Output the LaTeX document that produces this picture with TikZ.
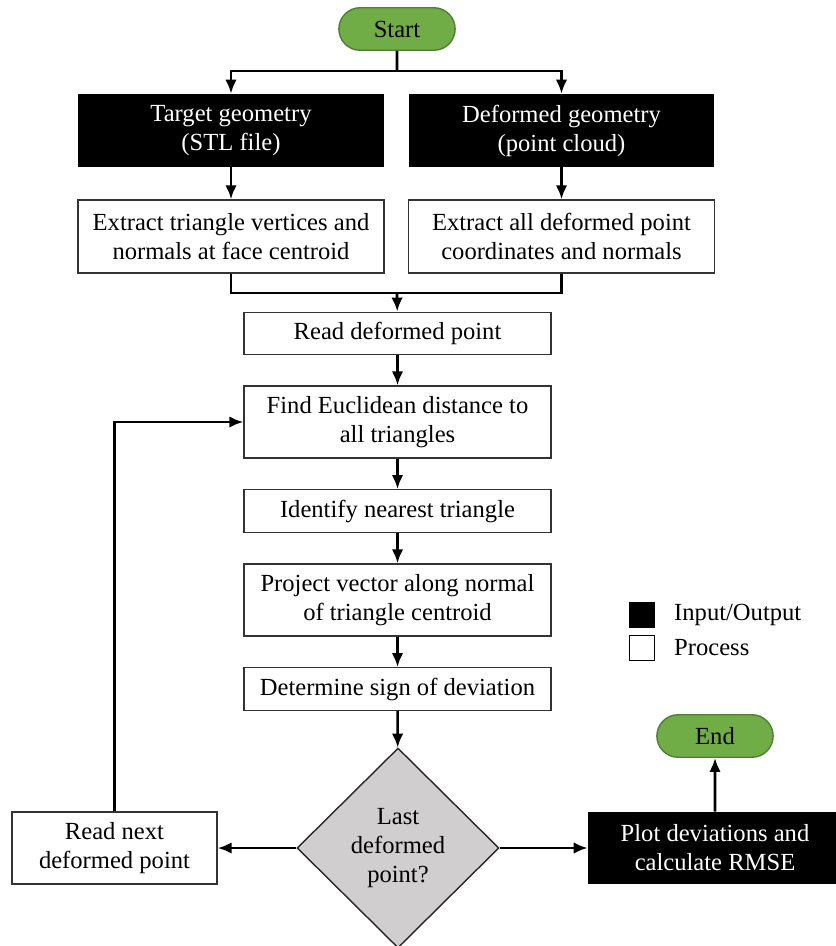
\documentclass[tikz,border=0pt]{standalone}
\usepackage{fontspec}
\setmainfont{Liberation Serif}
\usetikzlibrary{shapes.geometric,shapes.misc,arrows.meta}
\definecolor{termgreen}{HTML}{70AD47}
\definecolor{termedge}{HTML}{507E32}
\definecolor{decgray}{HTML}{D0CECE}

\begin{document}
\begin{tikzpicture}[x=0.02cm, y=-0.02cm,
		font=\fontsize{14}{16.5}\selectfont,
		>={Latex[length=2.8mm,width=2.3mm]},
		term/.style={rounded rectangle, fill=termgreen, draw=termedge, line width=0.8pt, minimum width=2.56cm, minimum height=0.85cm},
		io/.style={rectangle, fill=black, text=white, minimum width=6.12cm, minimum height=1.46cm, align=center, inner sep=2pt},
		proc/.style={rectangle, fill=white, draw=black!80, line width=0.8pt, minimum width=6.14cm, minimum height=0.85cm, align=center, inner sep=2pt},
		decision/.style={diamond, fill=decgray, draw=black!85, line width=0.8pt, minimum width=4.04cm, minimum height=4cm, align=center, inner sep=0pt},
		key/.style={rectangle, draw=black, line width=0.9pt, minimum width=0.5cm, minimum height=0.5cm, inner sep=0pt},
		conn/.style={line width=1.5pt}]
	\useasboundingbox (0,0) rectangle (835,946);
	% terminals
	\node[term] (start) at (397, 29) {Start};
	\node[term] (end) at (715, 736) {End};
	% inputs
	\node[io] (target) at (231, 130.5) {Target geometry\\(STL file)};
	\node[io] (deformed) at (561.5, 130.5) {Deformed geometry\\(point cloud)};
	\node[proc, minimum width=6.12cm, minimum height=1.46cm] (extri) at (231, 236.5) {Extract triangle vertices and\\normals at face centroid};
	\node[proc, minimum width=6.12cm, minimum height=1.46cm] (expts) at (561.5, 236.5) {Extract all deformed point\\coordinates and normals};
	% main loop
	\node[proc] (read) at (397.5, 333.5) {Read deformed point};
	\node[proc, minimum height=1.44cm] (find) at (397.5, 422) {Find Euclidean distance to\\all triangles};
	\node[proc] (ident) at (397.5, 511) {Identify nearest triangle};
	\node[proc, minimum height=1.44cm] (proj) at (397.5, 600) {Project vector along normal\\of triangle centroid};
	\node[proc] (sign) at (397.5, 689) {Determine sign of deviation};
	\node[decision] (last) at (398, 848) {Last\\deformed\\point?};
	\node[proc, minimum width=4.1cm, minimum height=1.44cm] (next) at (114.5, 848) {Read next\\deformed point};
	\node[io, minimum width=5.08cm, minimum height=1.44cm] (plot) at (715, 848) {Plot deviations and\\calculate RMSE};
	% legend
	\node[key, fill=black] (kio) at (642, 615) {};
	\node[key, fill=white] (kproc) at (642, 648) {};
	\node[anchor=west] (lio) at (668, 615) {Input/Output};
	\node[anchor=west] (lproc) at (668, 648) {Process};
	% connectors
	\coordinate (split) at (397, 71);
	\coordinate (merge) at (397, 293);
	\draw[conn] (start) -- (split);
	\draw[conn, ->] (split) -| (target.north);
	\draw[conn, ->] (split) -| (deformed.north);
	\draw[conn, ->] (target) -- (extri);
	\draw[conn, ->] (deformed) -- (expts);
	\draw[conn] (extri.south) |- (merge) -| (expts.south);
	\draw[conn, ->] (merge) -- (read);
	\draw[conn, ->] (read) -- (find);
	\draw[conn, ->] (find) -- (ident);
	\draw[conn, ->] (ident) -- (proj);
	\draw[conn, ->] (proj) -- (sign);
	\draw[conn, ->] (sign) -- (last);
	\draw[conn, ->] (last) -- (next);
	\draw[conn, ->] (last) -- (plot);
	\draw[conn, ->] (next.north) |- (find.west);
	\draw[conn, ->] (plot.north -| end) -- (end);
\end{tikzpicture}
\end{document}
